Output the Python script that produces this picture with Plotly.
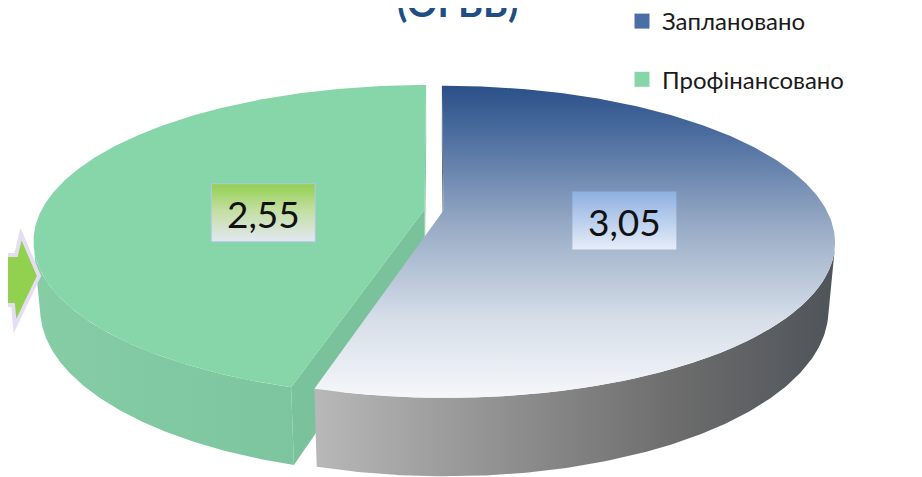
import numpy as np
import plotly.graph_objects as go

# ---------------- data ----------------
categories = ["Заплановано", "Профінансовано"]
values = [3.05, 2.55]
value_labels = ["3,05", "2,55"]
title_text = "(ОГВВ)"

# ---------------- style ----------------
W, H = 922, 477


def flip(scale):
    # vertical gradients are applied bottom-up on the reversed pixel axis
    return [[1 - p, c] for p, c in reversed(scale)]


top_fill = [
    dict(type="vertical", colorscale=flip([[0, "#2b5088"], [0.15, "#4a6c9e"], [0.45, "#98abc6"],
                                           [0.75, "#d6dee9"], [1, "#f6f7fa"]])),
    None,
]
top_color = ["#7d97bd", "#86d6aa"]
wall_fill = [
    dict(type="horizontal", colorscale=[[0, "#b8b8b8"], [0.3, "#979797"], [0.7, "#6c6c6c"], [1, "#4f545a"]]),
    dict(type="horizontal", colorscale=[[0, "#86cda6"], [1, "#7cc59e"]]),
]
wall_color = ["#808080", "#7ec8a0"]
face_color = ["#5a5f66", "#7ac29b"]
legend_color = ["#4a6fa5", "#86d6aa"]
box_scale = [
    flip([[0, "#8db0e2"], [1, "#e6edf7"]]),
    flip([[0, "#92d050"], [0.45, "#c3dea0"], [1, "#e2e8f3"]]),
]
box_line = ["rgba(0,0,0,0)", "#b4c7e7"]
label_radius = [0.47, 0.42]
label_angle_shift = [0.0, -11.0]  # degrees

# projection parameters
alpha = np.radians(23)
S, C = np.sin(alpha), np.cos(alpha)
D = 5 * C
F = 383 * D
CX, CY = 426, 202
THICK = 0.19
EXPLODE = 0.025
CAM = np.array([0.0, D * C, D * S])


def proj(X, Y, Z):
    X = np.asarray(X, float)
    Y = np.asarray(Y, float)
    Z = np.asarray(Z, float)
    yc = -Y * S + Z * C
    dep = D - (Y * C + Z * S)
    return CX + F * X / dep, CY - F * yc / dep


total = sum(values)
fr = np.array(values) / total
starts = np.concatenate([[0], np.cumsum(fr)[:-1]]) * 2 * np.pi
ends = starts + fr * 2 * np.pi
mids = (starts + ends) / 2

fig = go.Figure()


def poly(xs, ys, color, grad=None):
    kw = dict(x=list(xs) + [xs[0]], y=list(ys) + [ys[0]], mode="lines", fill="toself",
              line=dict(width=0, color=color), fillcolor=color, hoverinfo="skip", showlegend=False)
    if grad is not None:
        kw["fillgradient"] = grad
    fig.add_trace(go.Scatter(**kw))


order = list(range(len(values)))[::-1]
for i in order:
    a0, a1, am = starts[i], ends[i], mids[i]
    ox, oy = EXPLODE * np.sin(am), -EXPLODE * np.cos(am)
    # radial faces
    for ang, sign in ((a0, -1), (a1, 1)):
        n = sign * np.array([np.cos(ang), np.sin(ang), 0])
        apex = np.array([ox, oy, 0])
        if np.dot(CAM - apex, n) > 0:
            rx, ry = ox + np.sin(ang), oy - np.cos(ang)
            xs, ys = proj([ox, rx, rx, ox], [oy, ry, ry, oy], [0, 0, -THICK, -THICK])
            poly(xs, ys, face_color[i])
    # outer wall (visible part)
    th = np.linspace(a0, a1, 300)
    Px, Py = ox + np.sin(th), oy - np.cos(th)
    vis = (CAM[0] - Px) * np.sin(th) + (CAM[1] - Py) * (-np.cos(th)) > 0
    if vis.any():
        tv = th[vis]
        wx, wy = ox + np.sin(tv), oy - np.cos(tv)
        tx, ty = proj(wx, wy, np.zeros_like(tv))
        bx, by = proj(wx[::-1], wy[::-1], np.full_like(tv, -THICK))
        poly(np.concatenate([tx, bx]), np.concatenate([ty, by]), wall_color[i], wall_fill[i])
    # top face
    rx, ry = ox + np.sin(th), oy - np.cos(th)
    xs, ys = proj(np.concatenate([[ox], rx]), np.concatenate([[oy], ry]), np.zeros(len(th) + 1))
    poly(xs, ys, top_color[i], top_fill[i])

# value labels with gradient boxes
for i in range(len(values)):
    am = mids[i]
    al = am + np.radians(label_angle_shift[i])
    r = label_radius[i]
    ox, oy = EXPLODE * np.sin(am), -EXPLODE * np.cos(am)
    lx, ly = proj(ox + r * np.sin(al), oy - r * np.cos(al), 0)
    lx, ly = float(lx), float(ly)
    hw, hh = 52, 29
    fig.add_trace(go.Scatter(
        x=[lx - hw, lx + hw, lx + hw, lx - hw, lx - hw],
        y=[ly - hh, ly - hh, ly + hh, ly + hh, ly - hh],
        mode="lines", fill="toself", line=dict(width=1, color=box_line[i]),
        fillcolor="#dde6f2", fillgradient=dict(type="vertical", colorscale=box_scale[i]),
        hoverinfo="skip", showlegend=False))
    fig.add_annotation(x=lx, y=ly + 1, xref="x", yref="y", text=value_labels[i], showarrow=False,
                       font=dict(family="Lato, Carlito, sans-serif", size=37, color="#111111"))

# legend entries
for i, cat in enumerate(categories):
    fig.add_trace(go.Scatter(x=[None], y=[None], mode="markers", name=cat, legendgroup=str(i),
                             marker=dict(symbol="square", size=15, color=legend_color[i])))

# title (cut at the top as in the original)
fig.add_annotation(x=449 / W, y=1 + 6 / H, xref="paper", yref="paper", text="<b>" + title_text + "</b>",
                   showarrow=False, font=dict(family="Lato, sans-serif", size=38, color="#1f4e85"),
                   xanchor="center", yanchor="middle")

# decorative arrow at left edge
fig.add_shape(type="path", xref="x", yref="y",
              path="M -6,247 L 8,247 L 13,226 L 31,268 L 7,318 L 5,297 L -6,297 Z",
              fillcolor="#92d050", line=dict(color="#e6ddf3", width=4), layer="above")

fig.update_layout(
    width=W, height=H,
    margin=dict(l=0, r=0, t=0, b=0, autoexpand=False),
    paper_bgcolor="white", plot_bgcolor="white",
    xaxis=dict(range=[0, W], visible=False, fixedrange=True),
    yaxis=dict(range=[H, 0], visible=False, fixedrange=True),
    showlegend=True,
    legend=dict(x=614 / W, y=1.0 + 9 / H, xanchor="left", yanchor="top", tracegroupgap=24,
                font=dict(family="Lato, sans-serif", size=24, color="#1a1a1a"),
                bgcolor="rgba(0,0,0,0)", itemwidth=30),
)

fig.write_html("out.html")
